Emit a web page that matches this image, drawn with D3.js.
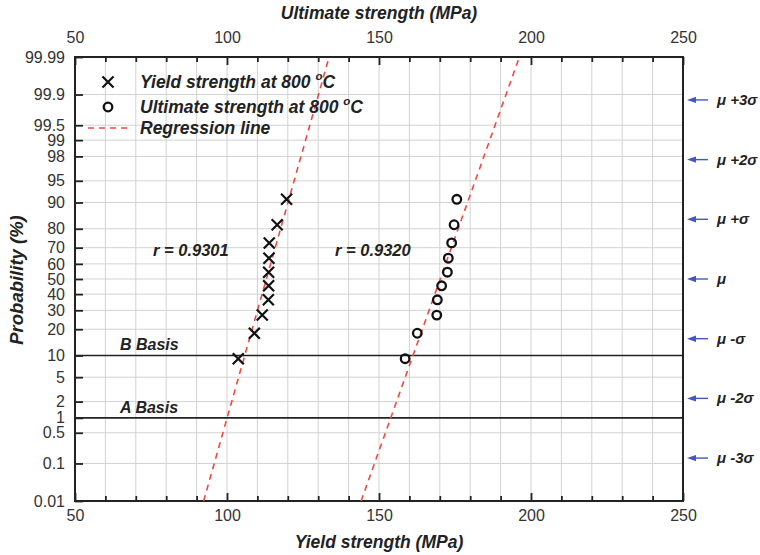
<!DOCTYPE html>
<html>
<head>
<meta charset="utf-8">
<script src="https://cdn.jsdelivr.net/npm/d3@7"></script>
<style>
  html, body { margin: 0; padding: 0; background: #fff; }
  svg { display: block; font-family: "Liberation Sans", Arial, sans-serif; }
</style>
</head>
<body>
<svg id="chart" width="760" height="555"></svg>
<script>
// Cumulative probability (%) assigned to each ranked specimen, rank i/(n+1)
const probabilities = [9.09, 18.18, 27.27, 36.36, 45.45, 54.55, 63.64, 72.73, 81.82, 90.91];
// Ranked yield strengths at 800 °C (MPa)
const yieldStrength = [103.7, 109.0, 111.6, 113.6, 113.7, 113.7, 113.8, 113.9, 116.5, 119.6];
// Ranked ultimate strengths at 800 °C (MPa)
const ultimateStrength = [158.6, 162.6, 169.0, 169.2, 170.6, 172.5, 172.8, 173.9, 174.7, 175.6];
// Fitted normal distributions: [mean, standard deviation] (MPa)
const yieldFit = [112.95, 5.55];
const ultimateFit = [170.15, 7.0];
const correlations = ["r = 0.9301", "r = 0.9320"];
// Probability axis ticks (%)
const probTicks = [0.01, 0.1, 0.5, 1, 2, 5, 10, 20, 30, 40, 50, 60, 70, 80, 90, 95, 98, 99, 99.5, 99.9, 99.99];
const probTickLabels = ["0.01", "0.1", "0.5", "1", "2", "5", "10", "20", "30", "40", "50", "60", "70", "80", "90", "95", "98", "99", "99.5", "99.9", "99.99"];
// Strength axis ticks (MPa)
const strengthMajor = [50, 100, 150, 200, 250];
const strengthMinor = [60, 70, 80, 90, 110, 120, 130, 140, 160, 170, 180, 190, 210, 220, 230, 240];
// Basis lines (%)
const basisLevels = [10, 1];
const basisLabels = ["B Basis", "A Basis"];
// Sigma markers on the right side
const sigmaSteps = [3, 2, 1, 0, -1, -2, -3];
const sigmaLabels = ["\u03bc +3\u03c3", "\u03bc +2\u03c3", "\u03bc +\u03c3", "\u03bc", "\u03bc -\u03c3", "\u03bc -2\u03c3", "\u03bc -3\u03c3"];

// Inverse of the standard normal CDF (Acklam's rational approximation)
function probit(p) {
  const a = [-3.969683028665376e+01, 2.209460984245205e+02, -2.759285104469687e+02, 1.383577518672690e+02, -3.066479806614716e+01, 2.506628277459239e+00];
  const b = [-5.447609879822406e+01, 1.615858368580409e+02, -1.556989798598866e+02, 6.680131188771972e+01, -1.328068155288572e+01];
  const c = [-7.784894002430293e-03, -3.223964580411365e-01, -2.400758277161838e+00, -2.549732539343734e+00, 4.374664141464968e+00, 2.938163982698783e+00];
  const d = [7.784695709041462e-03, 3.224671290700398e-01, 2.445134137142996e+00, 3.754408661907416e+00];
  const pl = 0.02425, ph = 1 - pl;
  let q, r;
  if (p < pl) {
    q = Math.sqrt(-2 * Math.log(p));
    return (((((c[0]*q+c[1])*q+c[2])*q+c[3])*q+c[4])*q+c[5]) / ((((d[0]*q+d[1])*q+d[2])*q+d[3])*q+1);
  }
  if (p <= ph) {
    q = p - 0.5; r = q * q;
    return (((((a[0]*r+a[1])*r+a[2])*r+a[3])*r+a[4])*r+a[5])*q / (((((b[0]*r+b[1])*r+b[2])*r+b[3])*r+b[4])*r+1);
  }
  q = Math.sqrt(-2 * Math.log(1 - p));
  return -(((((c[0]*q+c[1])*q+c[2])*q+c[3])*q+c[4])*q+c[5]) / ((((d[0]*q+d[1])*q+d[2])*q+d[3])*q+1);
}
const z = pct => probit(pct / 100);

const svg = d3.select("#chart");
const plot = { left: 75, right: 683, top: 57, bottom: 501 };
const zMax = z(99.99);

const x = d3.scaleLinear().domain([50, 250]).range([plot.left, plot.right]);
const yz = d3.scaleLinear().domain([-zMax, zMax]).range([plot.bottom, plot.top]);
const yP = pct => yz(z(pct));

svg.append("defs").append("clipPath").attr("id", "plotClip")
  .append("rect").attr("x", plot.left).attr("y", plot.top)
  .attr("width", plot.right - plot.left).attr("height", plot.bottom - plot.top);

// Grid
const grid = svg.append("g").attr("stroke", "#d2d2d2").attr("stroke-width", 1);
grid.selectAll("line.v").data(strengthMinor.concat(strengthMajor.slice(1, -1))).join("line")
  .attr("x1", d => x(d)).attr("x2", d => x(d))
  .attr("y1", plot.top).attr("y2", plot.bottom);
grid.selectAll("line.h").data(probTicks.filter(p => !basisLevels.includes(p) && p !== 0.01 && p !== 99.99)).join("line")
  .attr("x1", plot.left).attr("x2", plot.right)
  .attr("y1", d => yP(d)).attr("y2", d => yP(d));

// Basis lines
svg.append("g").selectAll("line").data(basisLevels).join("line")
  .attr("x1", plot.left).attr("x2", plot.right)
  .attr("y1", d => yP(d)).attr("y2", d => yP(d))
  .attr("stroke", "#222").attr("stroke-width", 1.6);
svg.append("g").selectAll("text").data(basisLabels).join("text")
  .attr("x", 120).attr("y", (d, i) => yP(basisLevels[i]) - 5)
  .attr("font-size", 16).attr("font-weight", "bold").attr("font-style", "italic").attr("fill", "#222")
  .text(d => d);

// Axes
const styleAxis = g => {
  g.select(".domain").remove();
  g.selectAll(".tick line").attr("stroke", "#222").attr("stroke-width", 1.8);
  g.selectAll(".tick text").attr("fill", "#333").attr("font-size", 16)
    .attr("font-family", "Liberation Sans, Arial, sans-serif");
};
svg.append("g").attr("transform", `translate(0,${plot.bottom})`)
  .call(d3.axisBottom(x).tickValues(strengthMinor).tickSize(-5).tickFormat(""))
  .call(styleAxis);
svg.append("g").attr("transform", `translate(0,${plot.bottom})`)
  .call(d3.axisBottom(x).tickValues(strengthMajor).tickSize(-8).tickPadding(9).tickFormat(d3.format("d")))
  .call(styleAxis);
svg.append("g").attr("transform", `translate(0,${plot.top})`)
  .call(d3.axisTop(x).tickValues(strengthMinor).tickSize(-5).tickFormat(""))
  .call(styleAxis);
svg.append("g").attr("transform", `translate(0,${plot.top})`)
  .call(d3.axisTop(x).tickValues(strengthMajor).tickSize(-8).tickPadding(14).tickFormat(d3.format("d")))
  .call(styleAxis);
svg.append("g").attr("transform", `translate(${plot.left},0)`)
  .call(d3.axisLeft(yz).tickValues(probTicks.map(z)).tickSize(-8).tickPadding(10)
    .tickFormat((d, i) => probTickLabels[i]))
  .call(styleAxis);

// Frame
svg.append("rect").attr("x", plot.left).attr("y", plot.top)
  .attr("width", plot.right - plot.left).attr("height", plot.bottom - plot.top)
  .attr("fill", "none").attr("stroke", "#222").attr("stroke-width", 2);

// Regression lines
const fitLine = fit => [-zMax, zMax].map(v => [x(fit[0] + fit[1] * v), yz(v)]);
svg.append("g").attr("clip-path", "url(#plotClip)")
  .selectAll("path").data([yieldFit, ultimateFit]).join("path")
  .attr("d", d => d3.line()(fitLine(d)))
  .attr("fill", "none").attr("stroke", "#ee4a3f").attr("stroke-width", 1.6)
  .attr("stroke-dasharray", "6,5");

// Yield strength markers
const crossPath = s => `M${-s},${-s}L${s},${s}M${-s},${s}L${s},${-s}`;
svg.append("g").selectAll("path").data(yieldStrength).join("path")
  .attr("transform", (d, i) => `translate(${x(d)},${yP(probabilities[i])})`)
  .attr("d", crossPath(5.5))
  .attr("stroke", "#111").attr("stroke-width", 2.2).attr("fill", "none");

// Ultimate strength markers
svg.append("g").selectAll("circle").data(ultimateStrength).join("circle")
  .attr("cx", d => x(d)).attr("cy", (d, i) => yP(probabilities[i]))
  .attr("r", 4.3).attr("fill", "none").attr("stroke", "#111").attr("stroke-width", 2.3);

// Correlation labels
svg.append("g").selectAll("text").data(correlations).join("text")
  .attr("x", (d, i) => [153, 335][i]).attr("y", 256)
  .attr("font-size", 16.5).attr("font-weight", "bold").attr("font-style", "italic").attr("fill", "#222")
  .text(d => d);

// Legend
const legend = svg.append("g").attr("font-size", 17.5).attr("font-weight", "bold")
  .attr("font-style", "italic").attr("fill", "#222");
legend.append("path").attr("transform", "translate(108,82)").attr("d", crossPath(5.5))
  .attr("stroke", "#111").attr("stroke-width", 2.2);
legend.append("circle").attr("cx", 108).attr("cy", 107).attr("r", 4.3)
  .attr("fill", "none").attr("stroke", "#111").attr("stroke-width", 2.3);
legend.append("line").attr("x1", 88).attr("x2", 128).attr("y1", 128).attr("y2", 128)
  .attr("stroke", "#ee4a3f").attr("stroke-width", 1.6).attr("stroke-dasharray", "6,5");
const legendText = ["Yield strength at 800 ", "Ultimate strength at 800 "];
legendText.forEach((t, i) => {
  const txt = legend.append("text").attr("x", 140).attr("y", 88 + i * 25).text(t);
  txt.append("tspan").attr("dy", -8).attr("font-size", 11.5).text("o");
  txt.append("tspan").attr("dy", 8).text("C");
});
legend.append("text").attr("x", 140).attr("y", 134).text("Regression line");

// Sigma markers on the right: short blue arrows pointing at the frame
const sig = svg.append("g");
sig.selectAll("line").data(sigmaSteps).join("line")
  .attr("x1", 708).attr("x2", 694).attr("y1", d => yz(d)).attr("y2", d => yz(d))
  .attr("stroke", "#4456c4").attr("stroke-width", 1.4);
sig.selectAll("path").data(sigmaSteps).join("path")
  .attr("transform", d => `translate(687,${yz(d)})`)
  .attr("d", "M0,0L9,-3.2L9,3.2Z").attr("fill", "#4456c4");
sig.selectAll("text").data(sigmaLabels).join("text")
  .attr("x", 717).attr("y", (d, i) => yz(sigmaSteps[i]) + 5)
  .attr("font-size", 15).attr("font-weight", "bold").attr("font-style", "italic").attr("fill", "#222")
  .text(d => d);

// Axis titles
const title = { "font-size": 17.5, "font-weight": "bold", "font-style": "italic", "fill": "#222" };
const addTitle = (sel, txt) => { Object.entries(title).forEach(([k, v]) => sel.attr(k, v)); return sel.text(txt); };
addTitle(svg.append("text").attr("x", 379).attr("y", 19).attr("text-anchor", "middle"), "Ultimate strength (MPa)");
addTitle(svg.append("text").attr("x", 379).attr("y", 548).attr("text-anchor", "middle"), "Yield strength (MPa)");
addTitle(svg.append("text").attr("transform", "translate(23,280) rotate(-90)").attr("text-anchor", "middle"), "Probability (%)")
  .attr("font-size", 18.5);
</script>
</body>
</html>
